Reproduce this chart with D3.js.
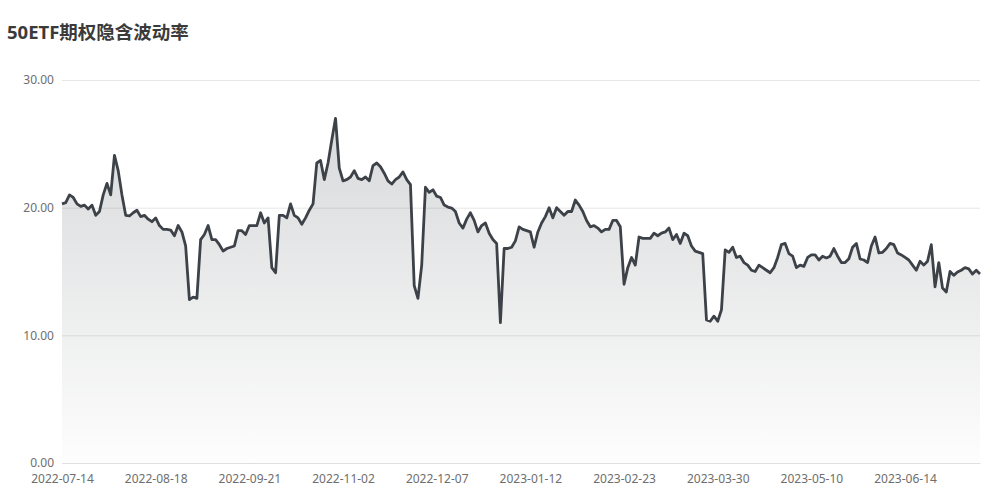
<!DOCTYPE html>
<html>
<head>
<meta charset="utf-8">
<script src="https://cdn.jsdelivr.net/npm/d3@7"></script>
<style>
  html, body { margin: 0; padding: 0; background: #fff; }
  svg { display: block; font-family: "Noto Sans", "Noto Sans CJK SC", sans-serif; }
</style>
</head>
<body>
<svg id="chart" width="1000" height="500"></svg>
<script>
const title = "50ETF期权隐含波动率";
const tickLabels = ["2022-07-14","2022-08-18","2022-09-21","2022-11-02","2022-12-07","2023-01-12","2023-02-23","2023-03-30","2023-05-10","2023-06-14"];
const labelEvery = 25;
const yTicks = [0, 10, 20, 30];
const values = [
  20.3, 20.4, 21.0, 20.8, 20.3, 20.1, 20.2, 19.9, 20.2, 19.4,
  19.7, 21.0, 21.9, 21.0, 24.1, 22.9, 21.0, 19.4, 19.35,
  19.6, 19.8, 19.3, 19.4, 19.1, 18.9, 19.2, 18.6, 18.3, 18.3,
  18.25, 17.8, 18.6, 18.1, 17.0, 12.8, 13.0, 12.9, 17.5, 17.9,
  18.6, 17.5, 17.5, 17.1, 16.6, 16.8, 16.9, 17.0, 18.2, 18.2,
  17.9, 18.6, 18.6, 18.6, 19.6, 18.8, 19.2, 15.3, 14.9, 19.4,
  19.4, 19.2, 20.3, 19.4, 19.2, 18.7, 19.2, 19.8, 20.3, 23.5,
  23.7, 22.2, 23.5, 25.3, 27.0, 23.1, 22.1, 22.2, 22.4, 22.9,
  22.3, 22.2, 22.4, 22.1, 23.3, 23.5, 23.2, 22.7, 22.1, 21.85,
  22.2, 22.4, 22.8, 22.2, 21.8, 13.9, 12.9, 15.5, 21.6, 21.2,
  21.4, 20.9, 20.8, 20.2, 20.05, 19.97, 19.7, 18.8, 18.4,
  19.1, 19.6, 19.0, 18.1, 18.6, 18.8, 18.0, 17.5, 17.2, 11.0,
  16.8, 16.8, 16.9, 17.4, 18.5, 18.3, 18.2, 18.1, 16.9, 18.1,
  18.8, 19.3, 20.0, 19.2, 20.0, 19.7, 19.4, 19.7, 19.7, 20.6,
  20.2, 19.7, 19.0, 18.5, 18.6, 18.4, 18.1, 18.3, 18.3, 19.0,
  19.0, 18.5, 14.0, 15.3, 16.1, 15.5, 17.7, 17.6, 17.6, 17.6,
  18.0, 17.8, 18.0, 18.1, 18.4, 17.5, 17.9, 17.2, 18.0, 17.8,
  17.0, 16.6, 16.5, 16.4, 11.2, 11.1, 11.5, 11.1, 12.0, 16.7,
  16.5, 16.9, 16.1, 16.2, 15.7, 15.5, 15.1, 15.0, 15.5, 15.3,
  15.1, 14.9, 15.3, 16.1, 17.1, 17.2, 16.4, 16.2, 15.3, 15.5,
  15.4, 16.1, 16.3, 16.3, 15.9, 16.2, 16.06, 16.2, 16.8, 16.2,
  15.7, 15.7, 16.0, 16.9, 17.2, 15.98, 15.9, 15.7, 17.0, 17.7,
  16.45, 16.5, 16.8, 17.2, 17.1, 16.45, 16.3, 16.1, 15.9, 15.5,
  15.1, 15.8, 15.5, 15.8, 17.1, 13.8, 15.7, 13.7, 13.4, 15.0,
  14.7, 14.96, 15.1, 15.3, 15.2, 14.8, 15.1, 14.8
];

const margin = { left: 62, right: 20, top: 80, bottom: 37 };
const W = 1000, H = 500;
const svg = d3.select("#chart");

const x = d3.scaleLinear().domain([0, values.length - 1]).range([margin.left, W - margin.right]);
const y = d3.scaleLinear().domain([0, 30]).range([H - margin.bottom, margin.top]);

svg.append("text")
  .attr("x", 7).attr("y", 39)
  .attr("font-size", 18.5).attr("font-weight", "bold")
  .attr("fill", "#3a3a3a")
  .text(title);

// grid + y labels
const yAxis = d3.axisLeft(y).tickValues(yTicks).tickSize(-(W - margin.left - margin.right)).tickFormat(d3.format(".2f"));
const gy = svg.append("g").attr("transform", `translate(${margin.left},0)`).call(yAxis);
gy.select(".domain").remove();
gy.selectAll(".tick line").attr("stroke", "#e6e6e6");
gy.selectAll(".tick text").attr("fill", "#6e6e6e").attr("font-size", 12).attr("x", -8)
  .attr("font-family", "'Noto Sans', sans-serif");

// gradient
const defs = svg.append("defs");
const grad = defs.append("linearGradient").attr("id", "areaGrad")
  .attr("gradientUnits", "userSpaceOnUse")
  .attr("x1", 0).attr("y1", y(27)).attr("x2", 0).attr("y2", y(0));
grad.append("stop").attr("offset", "0%").attr("stop-color", "#3d4249").attr("stop-opacity", 0.2);
grad.append("stop").attr("offset", "100%").attr("stop-color", "#3d4249").attr("stop-opacity", 0.01);

const area = d3.area().x((d, i) => x(i)).y0(y(0)).y1(d => y(d));
const line = d3.line().x((d, i) => x(i)).y(d => y(d));

svg.append("path").datum(values).attr("d", area).attr("fill", "url(#areaGrad)");
svg.append("path").datum(values).attr("d", line)
  .attr("fill", "none").attr("stroke", "#3d4249").attr("stroke-width", 2.8)
  .attr("stroke-linejoin", "round");

// x axis
const xTickIdx = tickLabels.map((d, i) => i * labelEvery);
const xAxis = d3.axisBottom(x).tickValues(xTickIdx).tickSize(0).tickPadding(11)
  .tickFormat((d, i) => tickLabels[i]);
const gx = svg.append("g").attr("transform", `translate(0,${y(0)})`).call(xAxis);
gx.select(".domain").attr("stroke", "#e0e0e0");
gx.selectAll(".tick text").attr("fill", "#6e6e6e").attr("font-size", 12)
  .attr("font-family", "'Noto Sans', sans-serif");
</script>
</body>
</html>
